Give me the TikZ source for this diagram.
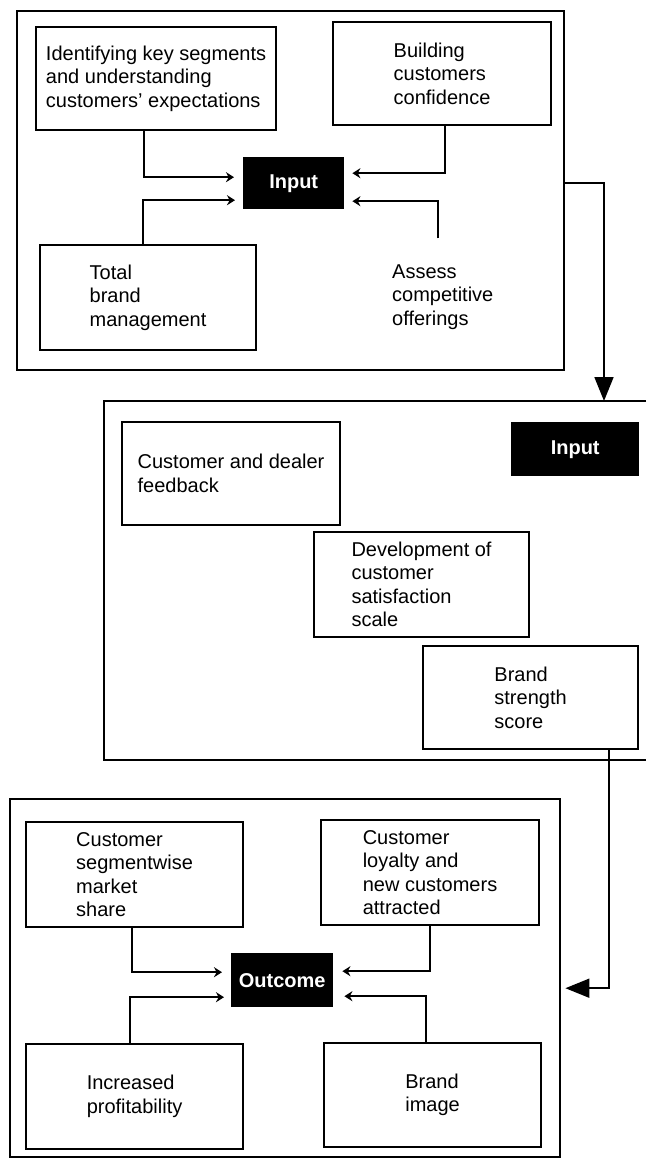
\documentclass[tikz,border=0pt]{standalone}
\usepackage{fontspec}
\setmainfont{Liberation Sans}
\usetikzlibrary{positioning, arrows.meta}

\begin{document}
\begin{tikzpicture}[
        x=1pt,
        y=-1pt,
        frame/.style={
            draw,
            line width=2.4pt,
            inner sep=0pt,
            anchor=north west
        },
        stagebox/.style={
            draw,
            line width=2.1pt,
            align=left,
            inner sep=0pt,
            anchor=north west,
            font=\fontsize{20}{23.5}\selectfont
        },
        blackbox/.style={
            fill=black,
            text=white,
            inner sep=0pt,
            anchor=north west,
            font=\bfseries\fontsize{20}{24}\selectfont
        },
        feed/.style={
            line width=1.9pt,
            -{Stealth[length=8pt, width=10pt]}
        },
        bigarrow/.style={
            line width=1.8pt,
            -{Triangle[length=24pt, width=19pt]}
        }
    ]

    \useasboundingbox (0,0) rectangle (646,1160);

    % --------------------------------------------------------
    % Top stage
    % --------------------------------------------------------

    \node[
        frame,
        minimum width=547pt,
        minimum height=359pt
    ]
    (topframe)
    at (16,10) {};

    \node[
        stagebox,
        minimum width=240pt,
        minimum height=103pt
    ]
    (keyseg)
    at (35,26)
    {Identifying key segments\\and understanding\\customers' expectations};

    \node[
        stagebox,
        minimum width=218pt,
        minimum height=103pt
    ]
    (confidence)
    at (332,21)
    {Building\\customers\\confidence};

    \node[
        stagebox,
        minimum width=216pt,
        minimum height=105pt
    ]
    (brandmgmt)
    at (39,244)
    {Total\\brand\\management};

    \node[
        align=left,
        anchor=west,
        inner sep=0pt,
        font=\fontsize{20}{23.5}\selectfont
    ]
    (assess)
    at (392,297)
    {Assess\\competitive\\offerings};

    \node[
        blackbox,
        minimum width=101pt,
        minimum height=52pt
    ]
    (inputtop)
    at (243,157)
    {Input};

    \draw[feed]
    ([xshift=-12pt]keyseg.south)
    |- ([xshift=-9pt, yshift=6pt]inputtop.west);

    \draw[feed]
    ([xshift=-5pt]brandmgmt.north)
    |- ([xshift=-8pt, yshift=-17pt]inputtop.west);

    \draw[feed]
    ([xshift=3pt]confidence.south)
    |- ([xshift=8pt, yshift=10pt]inputtop.east);

    \draw[feed]
    ([xshift=-5pt, yshift=26pt]assess.north)
    |- ([xshift=8pt, yshift=-18pt]inputtop.east);

    % --------------------------------------------------------
    % Middle stage (open on the right)
    % --------------------------------------------------------

    \coordinate (midNE) at (646,401);
    \coordinate (midNW) at (104,401);
    \coordinate (midSW) at (104,760);
    \coordinate (midSE) at (646,760);
    \coordinate (midin) at (604,401);

    \draw[
        line width=2.4pt
    ]
    (midNE) -- (midNW) -- (midSW) -- (midSE);

    \node[
        stagebox,
        minimum width=218pt,
        minimum height=103pt
    ]
    (feedback)
    at (121,421)
    {Customer and dealer\\feedback};

    \node[
        blackbox,
        minimum width=128pt,
        minimum height=54pt
    ]
    (inputmid)
    at (511,422)
    {Input};

    \node[
        stagebox,
        minimum width=215pt,
        minimum height=105pt
    ]
    (satscale)
    at (313,531)
    {Development of\\customer\\satisfaction\\scale};

    \node[
        stagebox,
        minimum width=215pt,
        minimum height=103pt
    ]
    (strength)
    at (422,645)
    {Brand\\strength\\score};

    \draw[bigarrow]
    ([yshift=7.5pt]topframe.east)
    -| (midin);

    % --------------------------------------------------------
    % Bottom stage
    % --------------------------------------------------------

    \node[
        frame,
        minimum width=550pt,
        minimum height=358pt
    ]
    (botframe)
    at (9,798) {};

    \node[
        stagebox,
        minimum width=217pt,
        minimum height=105pt
    ]
    (segshare)
    at (25,821)
    {Customer\\segmentwise\\market\\share};

    \node[
        stagebox,
        minimum width=218pt,
        minimum height=105pt
    ]
    (loyalty)
    at (320,819)
    {Customer\\loyalty and\\new customers\\attracted};

    \node[
        blackbox,
        minimum width=102pt,
        minimum height=54pt
    ]
    (outcome)
    at (231,953)
    {Outcome};

    \node[
        stagebox,
        minimum width=217pt,
        minimum height=105pt
    ]
    (profit)
    at (25,1043)
    {Increased\\profitability};

    \node[
        stagebox,
        minimum width=217pt,
        minimum height=104pt
    ]
    (brandimg)
    at (323,1042)
    {Brand\\image};

    \draw[feed]
    ([xshift=-2.5pt]segshare.south)
    |- ([xshift=-9pt, yshift=8pt]outcome.west);

    \draw[feed]
    ([xshift=-4.5pt]profit.north)
    |- ([xshift=-7pt, yshift=-17pt]outcome.west);

    \draw[feed]
    (loyalty.south)
    |- ([xshift=9pt, yshift=9pt]outcome.east);

    \draw[feed]
    ([xshift=-6.5pt]brandimg.north)
    |- ([xshift=11pt, yshift=-16pt]outcome.east);

    \draw[bigarrow]
    ([xshift=78.5pt]strength.south)
    |- ([xshift=4pt, yshift=-10pt]botframe.east);

\end{tikzpicture}
\end{document}
